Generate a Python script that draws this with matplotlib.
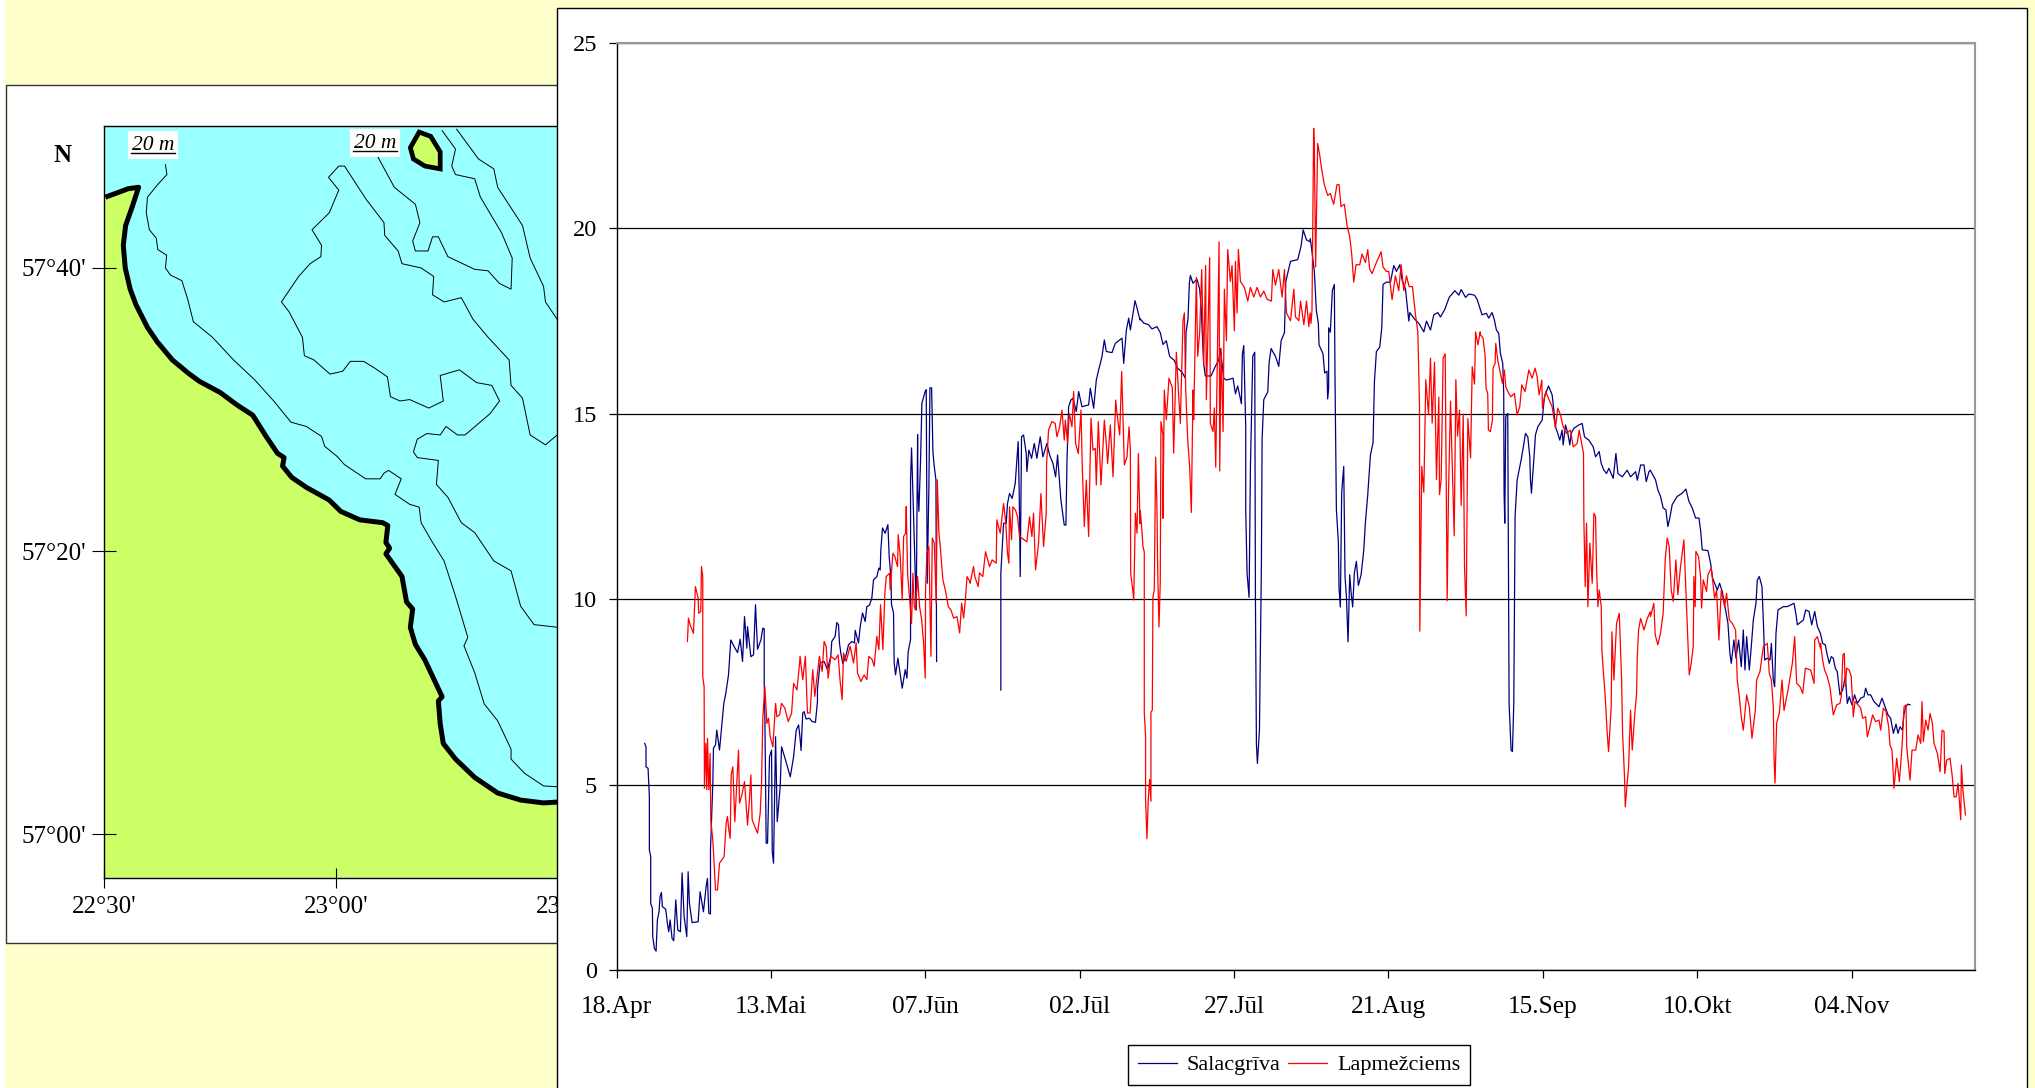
import numpy as np
import matplotlib
matplotlib.use('Agg')
import matplotlib.pyplot as plt
from matplotlib.patches import Rectangle

plt.rcParams['font.family'] = ['Liberation Serif', 'DejaVu Serif']

W, H = 2035, 1088

# day counted from 18.Apr, water temperature
sal_day = [4.57,4.78,4.78,5.11,5.32,5.32,5.54,5.54,5.81,5.87,6.14,6.41,6.62,6.89,7.05,7.27,7.43,7.97,8.24,8.46,8.68,9.0,9.27,9.6,9.92,10.35,10.62,10.95,11.38,11.6,11.81,12.24,13.22,13.54,14.08,14.51,14.73,14.95,15.22,15.22,15.6,15.7,16.03,16.24,16.68,17.05,17.38,17.7,18.14,18.51,19.05,19.6,20.03,20.41,20.73,21.11,21.22,21.76,22.19,22.51,22.84,23.38,23.7,23.92,23.92,24.03,24.24,24.46,24.78,25.11,25.22,25.43,25.76,26.03,26.51,26.73,27.38,28.14,28.68,29.11,29.49,
    29.73,29.89,30.16,30.38,30.7,31.24,31.68,32.22,32.54,32.54,32.97,33.62,34.16,34.7,34.86,35.41,35.68,35.95,36.11,36.32,36.65,37.19,37.57,38.11,38.54,38.65,39.19,39.46,39.84,40.27,40.54,40.97,41.35,41.62,42.16,42.49,42.7,42.81,43.08,43.51,43.95,44.16,44.43,44.54,44.86,44.97,45.19,45.57,45.95,46.27,46.76,47.03,47.24,47.62,47.62,47.78,48.1,48.54,48.76,48.81,48.97,49.24,49.46,50.0,50.16,50.32,50.59,50.76,51.03,51.24,51.46,51.73,51.84,51.9,
    62.24,62.24,62.68,63.11,63.32,63.65,64.08,64.57,65.0,65.05,65.22,65.38,65.59,65.92,66.35,66.46,66.78,67.22,67.65,68.08,68.62,69.05,69.7,70.14,70.68,71.11,71.43,71.97,72.51,72.78,72.95,73.22,73.59,73.92,74.46,74.84,75.38,76.46,76.73,77.27,77.7,78.08,78.62,79.0,79.32,80.24,80.78,81.86,82.14,82.57,82.95,83.22,83.65,83.97,84.3,84.78,
    84.82,85.36,86.17,86.71,87.52,88.06,88.5,89.04,89.58,90.33,90.87,91.58,92.12,92.23,92.55,92.77,92.93,93.36,94.01,94.44,94.66,95.09,95.36,96.28,96.98,97.52,97.79,98.33,98.77,99.85,100.23,100.6,101.2,101.36,101.58,101.9,101.9,102.12,102.44,102.66,103.04,103.36,103.47,103.63,103.79,104.12,104.44,104.55,104.82,105.47,105.69,106.01,106.71,107.25,107.63,108.17,108.39,109.15,110.33,110.87,111.2,111.74,112.33,
    112.36,112.63,113.01,113.33,113.66,113.77,114.41,114.68,115.06,115.17,115.33,115.33,115.6,115.93,116.25,116.36,116.58,116.9,117.01,117.22,117.44,117.77,117.98,118.2,118.47,118.74,118.95,119.22,119.5,119.82,120.14,120.58,121.01,121.28,121.66,122.09,122.52,122.74,123.06,123.6,123.93,124.14,124.68,125.33,125.87,126.31,126.85,127.22,127.77,128.31,128.47,129.22,129.93,130.74,131.17,131.82,132.36,133.01,133.44,134.14,134.85,135.77,136.41,136.79,137.5,138.04,138.95,139.39,139.82,
    139.9,140.17,140.87,141.25,141.79,142.17,142.49,142.87,143.14,143.52,143.68,143.74,143.85,144.01,144.33,144.44,144.55,144.87,145.09,145.31,145.52,145.85,146.17,146.49,146.82,147.2,147.58,147.9,148.01,148.17,148.55,148.82,149.2,149.9,150.28,150.93,151.52,151.79,152.06,152.44,152.76,153.14,153.31,153.68,154.06,154.39,154.6,155.04,155.85,156.39,156.76,157.47,158.17,158.55,159.14,159.47,159.9,160.33,160.71,161.41,161.85,162.17,162.87,163.68,164.22,165.04,165.31,165.85,166.39,166.76,167.2,167.41,
    168.26,168.64,169.07,169.5,169.94,170.26,170.58,170.96,171.77,172.58,173.18,173.67,174.21,174.75,175.29,175.56,175.83,176.75,177.18,177.5,178.26,178.64,179.07,179.56,179.99,180.31,180.53,180.96,181.29,181.72,182.15,182.48,182.75,183.02,183.45,183.77,184.1,184.53,184.75,185.07,185.5,185.72,185.94,186.37,186.8,187.02,187.34,187.56,187.77,188.1,188.96,189.61,190.69,191.02,191.23,192.21,192.58,193.12,193.56,194.04,194.48,194.96,
    195.32,195.75,196.07,196.4,196.72,197.05,197.37,197.69,198.13,198.56,199.0,199.32,199.64,200.07,200.5,200.94,201.48,202.02,202.29,202.67,203.1,203.64,204.45,204.94,205.53,205.91,206.34,206.78,207.21,207.53,207.86,208.24,208.51,208.78,209.15,209.48]
sal_temp = [6.11,6.02,5.48,5.44,4.68,3.24,3.06,1.80,1.66,0.90,0.58,0.51,1.35,1.57,1.98,2.09,1.71,1.64,1.26,1.03,1.35,0.85,0.79,1.89,1.08,1.03,2.62,1.44,0.90,2.65,1.80,1.28,1.30,2.11,1.57,2.25,2.47,1.53,1.51,3.24,5.04,5.98,6.07,6.47,5.93,6.61,7.19,7.46,7.96,8.90,8.72,8.56,8.92,8.32,9.53,8.68,9.26,8.45,8.5,9.85,8.65,8.90,9.22,9.2,7.73,6.83,3.42,3.42,5.75,5.93,3.19,2.88,6.29,4.0,4.95,6.02,5.66,5.21,5.75,6.47,6.61,
    6.25,5.92,6.93,6.97,6.77,6.79,6.70,6.68,7.24,7.56,8.28,8.32,8.10,8.46,8.86,9.0,9.37,9.31,8.82,8.55,8.26,8.5,8.77,8.86,8.82,9.16,8.82,9.25,9.63,9.4,9.8,9.84,10.03,10.52,10.61,10.84,10.79,11.33,11.92,11.78,12.01,11.15,10.61,9.85,9.63,8.28,7.96,8.41,7.96,7.6,8.1,7.87,8.59,8.91,13.22,14.08,12.32,9.71,14.44,12.95,12.37,13.76,15.29,15.61,15.65,10.43,13.04,15.7,15.7,13.99,13.58,13.22,8.32,np.nan,
    7.55,10.7,12.05,12.05,12.58,12.85,12.72,13.12,14.11,14.25,12.85,10.61,14.38,14.43,13.93,13.44,14.02,13.8,14.2,13.8,14.38,13.84,14.2,13.89,13.66,13.3,13.89,12.67,12.0,12.0,13.71,15.19,15.37,15.42,15.06,15.6,15.19,15.24,15.69,15.15,15.91,16.18,16.54,16.99,16.68,16.65,16.9,17.04,16.36,17.26,17.58,17.26,17.71,18.05,17.85,17.53,
    17.56,17.45,17.4,17.29,17.35,17.19,16.87,16.97,16.55,16.44,16.23,16.12,15.96,17.19,17.56,18.52,18.73,18.52,18.63,18.36,17.93,16.34,16.02,16.02,16.28,16.44,16.76,15.96,15.91,15.96,15.54,15.75,15.27,16.6,16.84,14.63,12.39,10.69,10.05,13.56,16.55,16.66,10.05,6.1,5.57,6.47,11.0,14.31,15.38,15.59,16.39,16.76,16.55,16.28,16.97,17.19,18.57,19.11,19.16,19.53,19.96,19.69,19.64,
    19.72,19.37,18.84,17.79,17.44,16.86,16.62,16.1,16.15,15.4,15.69,17.32,17.2,18.32,18.49,15.92,12.42,11.54,10.31,9.79,12.88,13.58,10.61,10.08,8.85,10.66,10.2,9.79,10.72,11.02,10.37,10.66,11.31,12.07,12.82,13.88,14.23,15.86,16.68,16.8,17.32,18.49,18.55,18.55,19.0,18.84,19.02,18.61,18.37,17.5,17.73,17.56,17.44,17.21,17.5,17.26,17.67,17.73,17.61,17.82,18.14,18.32,18.2,18.35,18.14,18.23,18.2,18.08,17.85,
    17.8,17.67,17.71,17.58,17.73,17.53,17.26,17.17,16.63,16.36,15.55,12.86,12.05,14.92,15.01,11.06,7.19,5.93,5.89,7.19,12.23,13.21,13.48,13.75,14.07,14.47,14.38,13.84,13.21,12.86,13.75,14.43,14.65,14.83,15.46,15.75,15.51,15.1,14.65,14.47,14.29,14.56,14.16,14.7,14.47,14.16,14.47,14.61,14.7,14.74,14.38,14.29,14.11,13.84,13.98,13.66,13.48,13.39,13.53,13.26,13.93,13.39,13.3,13.48,13.3,13.44,13.21,13.62,13.62,13.17,13.44,13.48,
    13.22,12.95,12.77,12.46,12.41,11.96,12.19,12.55,12.77,12.86,12.97,12.64,12.46,12.19,12.19,11.87,11.33,11.31,10.97,10.57,10.25,10.43,10.21,9.76,9.35,8.54,8.27,8.9,8.41,8.9,8.18,9.17,8.09,8.99,8.09,8.72,9.44,9.89,10.52,10.61,10.34,9.44,8.36,8.41,8.36,8.81,7.82,7.64,9.08,9.71,9.8,9.8,9.89,9.58,9.31,9.44,9.71,9.67,9.31,9.67,9.26,9.08,
    8.81,8.77,8.5,8.27,8.45,8.41,8.14,8.05,7.42,7.55,7.91,7.19,7.37,7.15,7.42,7.19,7.33,7.37,7.6,7.42,7.42,7.24,7.1,7.33,7.06,6.88,6.79,6.38,6.63,6.38,6.56,6.47,6.92,7.1,7.17,7.15]

lap_day = [11.49,11.65,11.92,12.46,12.78,13.22,13.32,13.65,13.76,13.97,13.97,14.19,14.24,14.46,14.62,14.73,14.95,15.16,15.27,15.59,15.81,16.03,16.35,16.68,17.43,17.76,17.97,18.19,18.41,18.57,18.84,19.16,19.49,19.76,19.92,20.3,20.73,21.22,21.49,21.76,21.97,22.3,22.84,23.27,23.49,23.7,24.03,24.35,24.62,24.89,25.32,25.76,25.97,26.41,26.73,27.27,27.81,28.35,28.68,29.22,29.65,
    29.73,30.16,30.59,30.92,31.35,31.78,32.11,32.54,32.86,33.3,33.62,33.95,34.27,34.7,35.41,35.89,36.22,36.54,36.76,37.19,37.84,38.38,38.81,39.03,39.57,40.11,40.54,40.86,41.41,41.73,42.16,42.49,42.76,43.14,43.46,43.68,44.22,44.32,44.76,45.08,45.51,45.62,45.95,46.27,46.49,46.81,46.92,47.14,47.57,47.78,48.0,48.22,48.43,48.76,49.08,49.41,49.73,50.0,50.05,50.27,50.59,50.92,51.14,51.46,51.78,51.95,52.22,52.43,52.86,53.3,53.73,54.16,54.59,55.14,55.57,55.89,56.22,56.54,56.76,57.2,
    57.27,57.81,58.03,58.57,58.78,59.32,59.76,60.41,60.84,61.49,61.59,62.14,62.68,63.0,63.32,63.54,63.65,63.97,64.19,64.62,64.95,65.27,66.46,66.89,67.27,67.54,67.86,68.35,68.73,69.16,69.59,69.65,69.97,70.51,71.05,71.32,71.76,72.14,72.51,72.68,73.05,73.32,73.76,74.03,74.35,74.78,75.22,75.43,75.76,76.08,76.46,76.84,77.16,77.54,77.7,78.03,78.46,79.0,79.32,79.54,79.97,80.41,80.84,81.05,81.49,81.81,82.24,82.67,83.0,83.22,83.27,83.54,83.76,84.03,84.3,84.51,84.78,
    84.82,85.04,85.25,85.47,85.47,85.68,85.68,85.9,86.12,86.33,86.55,86.55,86.77,86.87,87.09,87.31,87.52,87.63,87.85,88.06,88.17,88.5,88.5,88.71,89.04,89.47,90.01,90.23,90.66,91.04,91.31,91.74,91.96,92.17,92.5,92.82,93.09,93.36,93.47,93.9,94.12,94.44,94.77,95.09,95.41,95.52,96.06,96.17,96.6,96.82,97.04,97.58,97.69,97.9,98.23,98.44,98.77,98.98,99.41,99.68,100.06,100.23,100.5,100.71,101.04,101.68,102.23,102.66,103.2,103.74,104.28,104.82,105.36,106.06,106.28,106.71,107.25,107.79,108.17,108.5,109.15,109.69,109.96,110.5,110.77,111.31,111.74,112.12,112.33,
    112.47,112.63,112.9,113.01,113.22,113.55,113.87,114.2,114.63,115.17,115.6,116.14,116.68,117.01,117.33,117.87,118.31,118.74,119.06,119.39,119.77,120.36,120.74,121.28,121.66,121.98,122.36,122.9,123.82,124.14,124.68,125.06,125.6,126.14,126.68,127.06,127.5,127.93,128.36,128.9,129.39,129.77,130.04,130.09,130.41,130.74,131.06,131.5,131.82,132.09,132.47,132.79,133.17,133.28,133.55,133.87,134.2,134.52,134.74,135.06,135.44,135.66,135.93,136.2,136.52,136.79,137.12,137.33,137.6,137.87,138.31,138.58,138.95,139.12,139.5,139.87,
    139.9,140.33,140.66,140.82,141.09,141.2,141.52,141.85,141.95,142.28,142.39,142.71,143.14,143.47,143.79,144.01,144.49,144.87,145.41,145.85,146.28,146.6,147.14,147.74,148.28,148.76,149.09,149.41,149.85,149.95,150.49,151.04,151.52,152.06,152.44,152.87,153.31,153.85,154.49,154.93,155.58,155.9,156.39,156.6,156.66,156.87,157.09,157.31,157.63,158.01,158.28,158.55,158.71,158.93,159.14,159.47,159.58,159.79,160.12,160.44,160.66,161.09,161.2,161.52,161.95,162.39,162.77,162.93,163.25,163.36,163.9,164.22,164.49,164.87,165.2,165.31,165.52,165.85,166.39,166.93,167.41,
    167.45,167.99,168.21,168.64,169.07,169.5,169.83,170.15,170.48,170.8,171.13,171.56,171.88,172.31,172.86,173.29,173.5,173.72,174.04,174.37,174.48,174.69,174.8,175.23,175.56,175.72,175.99,176.53,176.75,177.29,177.83,178.15,178.53,178.91,179.45,179.77,180.21,180.69,181.23,181.5,181.83,182.15,182.48,183.02,183.45,183.88,184.42,184.64,185.18,185.72,186.37,186.69,187.02,187.34,187.45,187.61,187.88,188.31,188.75,189.07,189.72,190.42,190.8,191.12,191.67,192.1,192.53,193.4,193.94,194.04,194.48,194.96,
    194.99,195.32,195.64,196.07,196.5,196.83,197.05,197.59,198.13,198.34,198.61,198.83,199.0,199.21,199.64,199.96,200.29,200.56,201.05,201.48,201.8,202.29,202.56,202.99,203.42,203.91,204.45,204.72,205.15,205.59,206.02,206.23,206.56,206.88,207.32,207.75,208.18,208.51,208.83,208.94,209.48,209.8,210.4,210.78,211.21,211.42,211.64,212.02,212.4,212.72,213.1,213.37,213.91,214.34,214.67,214.99,215.1,215.42,215.96,216.29,216.61,216.94,217.26,217.69,217.8,218.02,218.45]
lap_temp = [8.86,9.49,9.31,9.08,10.34,10.03,9.62,9.67,10.88,10.61,7.91,7.64,4.9,6.11,4.86,6.25,4.86,5.84,4.05,3.51,2.88,2.16,2.16,2.88,3.06,3.96,4.14,3.78,3.55,5.26,5.48,4.0,5.04,5.93,4.5,4.72,5.08,3.91,4.5,5.26,4.05,3.91,3.69,4.23,5.04,6.83,7.64,6.65,6.79,6.29,6.02,7.19,6.83,6.88,7.19,7.06,6.7,6.92,7.73,7.55,8.27,
    8.46,7.83,8.46,6.93,6.93,8.1,7.38,8.01,8.46,8.05,8.86,8.73,7.87,8.46,8.37,8.5,7.78,7.29,8.55,8.32,8.73,8.28,8.82,8.01,7.78,7.96,7.83,8.46,8.37,8.19,9.0,8.64,9.85,8.64,10.16,10.61,10.7,10.25,11.24,11.15,10.88,11.74,11.15,9.98,11.69,11.78,12.5,10.7,9.8,9.35,10.7,9.8,9.71,10.61,9.8,9.45,8.82,7.87,10.25,11.24,11.42,8.46,11.65,11.51,9.89,13.22,11.78,11.42,10.52,10.21,9.8,9.71,9.49,9.53,9.09,9.89,9.49,10.07,10.61,10.48,
    10.43,10.88,10.61,10.34,10.71,10.61,11.28,10.88,11.06,10.97,12.14,11.78,12.58,12.14,11.24,10.97,12.49,11.6,12.49,12.4,12.22,11.69,11.55,12.22,11.69,12.32,10.79,11.51,12.85,11.42,12.32,13.66,14.56,14.79,14.74,14.38,14.65,15.1,14.29,14.83,14.2,15.01,14.65,15.6,14.2,13.93,15.1,13.57,11.96,13.21,11.69,14.88,14.02,14.07,13.08,14.79,13.08,14.83,14.2,13.66,14.7,13.3,15.37,15.01,14.43,16.14,13.62,13.84,14.65,14.02,10.70,10.34,9.98,12.32,11.78,13.93,12.04,
    12.39,11.96,11.43,11.27,6.95,6.31,4.61,3.54,4.61,5.14,4.55,6.95,7.01,10.05,10.26,13.83,12.5,10.9,9.25,10.47,14.79,14.42,12.18,15.64,14.84,15.96,15.7,13.94,16.66,15.48,14.74,17.51,17.72,15.7,14.31,13.56,12.34,15.64,14.84,18.68,16.55,17.19,18.89,16.34,19.0,15.38,19.21,14.74,14.52,15.16,13.56,19.64,13.46,16.76,14.52,18.36,16.97,19.43,18.57,19.0,17.24,19.11,17.72,19.43,18.57,18.41,18.04,18.41,18.15,18.41,18.15,18.31,18.09,18.04,18.89,18.47,18.89,18.15,18.89,17.72,17.51,18.36,17.61,17.51,18.04,17.4,18.04,17.35,17.72,
    17.44,17.79,22.7,22.23,18.96,22.29,21.99,21.59,21.18,20.89,20.94,20.65,21.18,21.18,20.59,20.65,20.07,19.78,19.31,18.55,19.02,19.02,19.31,19.08,19.43,18.9,18.78,19.02,19.37,18.96,18.84,18.84,18.08,18.72,18.32,19.02,18.32,18.72,18.43,18.43,17.67,17.21,15.22,9.14,13.58,12.88,15.92,14.99,16.5,14.75,16.39,13.23,15.45,12.82,13.23,16.5,16.62,9.96,12.88,15.34,13.0,11.71,15.92,14.4,15.1,12.53,14.99,10.9,9.55,14.87,13.81,16.27,15.8,17.21,16.86,17.21,
    17.13,17.04,16.59,15.69,15.55,14.56,14.52,14.83,16.23,16.36,16.9,16.45,16.09,15.82,16.18,15.73,15.55,15.46,15.55,14.97,15.19,15.78,15.6,16.18,15.96,16.23,16.0,15.51,15.91,15.15,15.6,15.37,15.19,14.61,15.15,14.97,14.65,14.47,14.56,14.11,14.2,14.56,14.11,13.93,12.14,10.34,12.05,9.8,11.51,10.43,12.32,12.23,10.88,9.8,10.25,9.8,8.63,8.09,7.37,6.38,5.89,7.1,9.12,7.82,9.35,9.62,7.82,6.38,5.17,4.4,5.48,7.01,5.93,6.83,7.46,8.45,9.17,9.48,9.17,9.48,9.66,
    9.53,9.89,9.04,8.77,9.08,9.62,11.06,11.65,11.42,10.25,9.94,11.06,10.12,10.88,11.6,9.8,8.9,7.96,8.27,8.72,10.61,9.8,11.29,11.15,10.61,9.76,10.52,10.21,10.66,10.84,10.03,10.25,8.9,10.25,9.8,10.16,9.44,9.35,9.17,7.82,7.37,6.83,6.47,7.42,7.1,6.25,7.0,7.82,8.05,8.72,8.81,8.0,7.82,7.1,5.76,5.04,6.66,6.93,7.82,7.0,7.55,8.27,8.99,7.73,7.64,7.46,8.14,8.09,7.73,8.9,8.99,8.68,
    8.81,8.36,8.09,7.91,7.64,7.19,6.88,7.15,7.19,7.37,8.5,8.54,7.64,8.14,8.09,7.91,6.83,7.24,7.15,7.06,6.79,6.83,6.29,6.56,6.88,6.7,6.74,6.47,7.06,6.97,6.56,6.07,5.93,4.9,5.71,5.08,6.02,7.1,7.15,6.02,5.12,5.93,5.93,6.34,6.11,7.24,6.16,6.74,6.47,6.92,6.65,6.11,5.84,5.35,6.47,6.43,5.3,5.66,5.71,5.26,4.67,4.67,5.03,4.05,5.53,4.9,4.18]

date_labels = ['18.Apr','13.Mai','07.Jūn','02.Jūl','27.Jūl','21.Aug','15.Sep','10.Okt','04.Nov']
date_ticks = [0,25,50,75,100,125,150,175,200]

# map, arc minutes east of 22°30' and north of 57°00'
coast_lon = [0.15,3.12,4.45,3.61,2.77,2.47,2.72,3.36,4.11,5.59,6.83,8.81,10.79,12.27,14.99,17.22,19.2,20.93,22.41,23.26,23.06,24.25,26.13,29.09,30.58,33.05,36.02,36.67,36.42,36.91,36.42,38.5,39.09,39.88,39.58,40.23,41.46,43.69,43.2,43.44,43.84,45.42,47.9,50.87,53.84,56.8,59.77]
coast_lat = [45.0,45.6,45.7,44.3,43.0,41.6,40.0,38.5,37.4,35.8,34.8,33.5,32.6,32.0,31.2,30.3,29.6,28.1,26.9,26.6,26.0,25.2,24.5,23.6,22.8,22.2,22.0,21.8,20.6,20.2,19.8,18.2,16.4,15.9,14.6,13.4,12.3,9.7,9.4,7.8,6.4,5.3,4.0,2.9,2.4,2.2,2.3]
island_lon = [40.72,42.21,43.44,43.44,41.46,39.98,39.58,40.72]
island_lat = [49.6,49.3,48.2,47.0,47.2,47.7,48.5,49.6]

depth_a_lon = [7.92,8.11,6.93,5.59,5.44,5.84,6.73,6.93,8.07,7.92,8.56,10.04,10.79,11.53,14.0,16.72,19.45,21.92,24.15,26.13,28.1,28.5,30.08,31.07,33.8,35.68,36.17,36.76,38.4,37.6,39.49,40.72,40.97,42.45,43.94,45.42,47.01,46.51,47.9,49.13,50.87,52.6,52.6,54.33,56.8,59.77]
depth_a_lat = [47.3,46.6,45.9,45.0,43.9,42.7,42.1,41.3,40.9,40.0,39.5,39.1,37.8,36.2,35.1,33.5,32.1,30.6,29.1,28.8,28.1,27.4,26.7,26.1,25.1,25.1,25.5,25.7,25.1,24.0,23.3,23.1,22.0,20.6,19.3,16.8,13.9,13.3,11.4,9.2,8.0,6.0,5.3,4.3,3.4,3.3]
depth_b_lon = [35.03,37.51,40.23,40.82,39.88,40.23,41.86,42.45,43.2,44.43,47.9,49.63,51.11,52.6,52.75,51.36,48.64,47.9,45.42,44.93,45.42,43.69]
depth_b_lat = [48.2,45.7,44.5,43.2,41.9,41.2,41.2,42.2,42.2,40.8,39.9,39.8,38.9,38.5,40.7,42.5,45.0,46.3,46.6,47.2,48.4,49.7]
depth_c_lon = [45.57,48.39,50.37,50.87,54.08,55.07,56.8,57.05,58.78]
depth_c_lat = [49.8,47.7,47.0,45.7,43.0,40.7,38.7,37.6,36.2]
depth_d_lon = [58.78,57.05,55.07,54.08,52.6,52.35,49.63,47.65,46.17,43.94,42.45,42.6,40.97,38.5,38.0,36.27,36.17,33.8,31.07,30.33,29.0,30.33,29.1,26.87,28.1,28.01,26.62,25.14,22.91,23.9,25.63,25.88,27.12,29.19,30.83,31.82,33.55,35.03,36.62,37.01,38.25,39.49,41.96,43.84,43.44,45.92,48.14,50.12,51.11,49.88,46.66,45.67,44.19,43.44,41.71,40.48,39.98,40.48,43.2,42.95,44.43,46.17,47.9,50.37,52.6,53.84,55.57,58.78]
depth_d_lat = [28.3,27.5,28.2,30.8,31.7,33.5,35.1,36.4,37.9,37.6,38.1,39.4,40.0,40.3,41.2,42.3,43.2,44.9,47.2,47.2,46.4,45.5,43.9,42.7,41.6,40.8,40.3,39.4,37.6,36.9,35.1,33.8,33.5,32.5,32.7,33.4,33.4,32.9,32.3,30.9,30.6,30.7,30.1,30.6,32.4,32.8,31.9,31.7,30.6,29.7,28.2,28.2,28.8,28.2,28.3,27.9,27.0,26.6,26.4,24.7,23.8,22.0,21.3,19.3,18.6,16.1,14.8,14.6]

lon_ticks = [0,30,60]
lon_labels = ["22°30'","23°00'","23°30'"]
lat_ticks = [0,20,40]
lat_labels = ["57°00'","57°20'","57°40'"]


def box(x0, y0, x1, y1):
    # pixel box measured from the top left -> figure fractions
    return [x0/W, 1-y1/H, (x1-x0)/W, (y1-y0)/H]


fig = plt.figure(figsize=(W/100, H/100), dpi=100, facecolor='#FFFFCC')

# white strip and the two slides
for b, ec, z in [(box(0,0,4,H), 'white', 0), (box(6,85,600,943), '#333333', 0.5), (box(557,8,2027,H+5), 'black', 2)]:
    fig.add_artist(Rectangle((b[0],b[1]), b[2], b[3], transform=fig.transFigure,
                             fc='white', ec=ec, lw=1, zorder=z))

### MAP ###
mx = fig.add_axes(box(103.5,126,600,877.5), zorder=1, facecolor='#99FFFF')
xl = (-0.09, 64.1)
yl = (-3.07, 50.03)
mx.fill(coast_lon+[xl[1],xl[1],xl[0],xl[0]], coast_lat+[coast_lat[-1],yl[0],yl[0],coast_lat[0]], color='#CCFF66', lw=0)
mx.plot(coast_lon, coast_lat, color='black', lw=3.6, solid_capstyle='butt')
mx.fill(island_lon, island_lat, fc='#CCFF66', ec='black', lw=3.4)
for lo, la in [(depth_a_lon,depth_a_lat),(depth_b_lon,depth_b_lat),(depth_c_lon,depth_c_lat),(depth_d_lon,depth_d_lat)]:
    mx.plot(lo, la, color='black', lw=0.7)
mx.set(xlim=xl, ylim=yl)
mx.set_xticks(lon_ticks, lon_labels, fontsize=18)
mx.set_yticks(lat_ticks, lat_labels, fontsize=18)
mx.tick_params(axis='x', direction='inout', length=15, width=0.8, pad=6)
mx.tick_params(axis='y', direction='inout', length=17, width=0.8, pad=4)
mx.spines['right'].set_visible(False)
for s in ['left','top','bottom']:
    mx.spines[s].set_linewidth(1)

fig.text(63/W, 1-155/H, 'N', fontsize=18, fontweight='bold', ha='center', va='center', zorder=1.5)
for px, py in [(153,145),(375,143)]:
    fig.text(px/W, 1-py/H, '20 m', fontsize=15.5, style='italic', ha='center', va='center', zorder=1.5,
             bbox=dict(fc='white', ec='none', pad=3))
    fig.add_artist(plt.Line2D([(px-22)/W,(px+22)/W], [1-(py+8)/H]*2, color='black', lw=1, zorder=1.6))

### TEMPERATURE ###
ax = fig.add_axes(box(616.5,43,1975,970), zorder=3, facecolor='white')
ax.set_axisbelow(True)
ax.yaxis.grid(True, color='black', lw=0.9)
ax.plot(sal_day, sal_temp, color='#000080', lw=0.9, label='Salacgrīva')
ax.plot(lap_day, lap_temp, color='#FF0000', lw=0.9, label='Lapmežciems')
ax.set(xlim=(0,220), ylim=(0,25))
ax.set_xticks(date_ticks, date_labels, fontsize=18.3)
ax.set_yticks([0,5,10,15,20,25])
ax.tick_params(axis='y', labelsize=17.5, length=6, width=0.9, pad=8)
ax.tick_params(axis='x', length=6, width=0.9, pad=13)
for s in ['top','right']:
    ax.spines[s].set_color('#999999')
    ax.spines[s].set_linewidth(1.5)
for s in ['left','bottom']:
    ax.spines[s].set_linewidth(1)

leg = ax.legend(loc='center', bbox_to_anchor=(((1128+1470)/2)/W, 1-1065/H), bbox_transform=fig.transFigure,
                ncol=2, fontsize=16, frameon=True, fancybox=False, edgecolor='black', framealpha=1,
                handlelength=1.75, handletextpad=0.45, columnspacing=0.35, borderpad=0.42, borderaxespad=0)
leg.get_frame().set_linewidth(1)

plt.savefig('out.png', dpi=100, facecolor=fig.get_facecolor())
